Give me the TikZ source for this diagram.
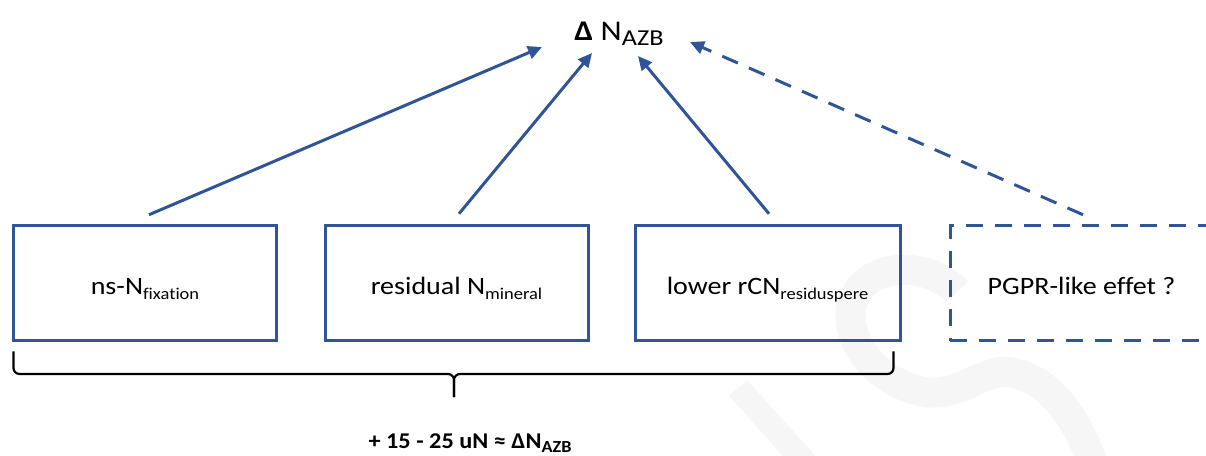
\documentclass[tikz,border=0pt]{standalone}
\usepackage{fontspec}
\setmainfont{Carlito}
\newfontfamily\fcaja[FakeStretch=1.12,Ligatures=NoCommon]{Carlito}
\newfontfamily\ftit[FakeStretch=1.15]{Carlito}
\newfontfamily\ftot[FakeStretch=1.08]{Carlito}
\usetikzlibrary{arrows.meta}
\definecolor{azul}{HTML}{2F5597}
\newcommand{\subtxt}[2][.66]{\raisebox{-.2em}{\scalebox{#1}{#2}}}

\begin{document}
\begin{tikzpicture}[x=1pt,y=-1pt,
  caja/.style={draw=azul, line width=3pt, minimum width=263pt, minimum height=115.5pt,
    inner sep=0pt, text height=22pt, text depth=0pt, font=\fcaja\fontsize{25}{29}\selectfont},
  flecha/.style={draw=azul, line width=3pt, -{Triangle[length=14pt,width=13pt]}},
  llave/.style={draw=black, line width=2.2pt, rounded corners=6pt},
  marca/.style={draw=gray!7, line width=30pt}]
\useasboundingbox (0,0) rectangle (1206,455);

% marca de agua
\draw[marca] (957,292) .. controls (930,262) and (870,260) .. (853,300)
  .. controls (840,340) and (880,385) .. (925,392)
  .. controls (960,397) and (985,368) .. (1010,372)
  .. controls (1045,378) and (1075,410) .. (1095,470);
\draw[marca, line width=24pt] (738,388) -- (812,470);

% titulo
\node[anchor=base, font=\ftit\fontsize{28.5}{32}\selectfont] (tit) at (619,40)
  {\textbf{Δ} N\subtxt[.8]{AZB}};

% cajas
\node[caja] (b1) at (145,283) {ns-N\subtxt{fixation}};
\node[caja] (b2) at (456.5,283) {residual N\subtxt{mineral}};
\node[caja, minimum width=265pt] (b3) at (767.5,283) {lower rCN\subtxt{residuspere}};
\node[caja, dash pattern=on 17pt off 12pt] (b4) at (1081.5,283) {PGPR-like effet ?};

% puntas de flecha
\coordinate (t1) at (542,47);
\coordinate (t2) at (592,53);
\coordinate (t3) at (638,56);
\coordinate (t4) at (690,42);

% flechas
\draw[flecha] ([xshift=4pt,yshift=9pt]b1.north) -- (t1);
\draw[flecha] ([xshift=2.5pt,yshift=10pt]b2.north) -- (t2);
\draw[flecha] ([xshift=1.5pt,yshift=10pt]b3.north) -- (t3);
\draw[flecha, dash pattern=on 17pt off 12pt] ([xshift=1.5pt,yshift=9pt]b4.north) -- (t4);

% llave
\coordinate (bi) at ([xshift=1.5pt,yshift=-9pt]b1.south west);
\coordinate (bd) at ([xshift=-8pt,yshift=-9pt]b3.south east);
\coordinate (punta) at (454,397);
\draw[llave] (bi) |- (454,374) -- (punta);
\draw[llave] (bd) |- (454,374) -- (punta);

% total
\node[anchor=base, font=\ftot\fontsize{22.5}{26}\selectfont\bfseries] (tot) at (470,448)
  {+ 15 - 25 uN ≈ ΔN\subtxt[.75]{AZB}};
\end{tikzpicture}
\end{document}
